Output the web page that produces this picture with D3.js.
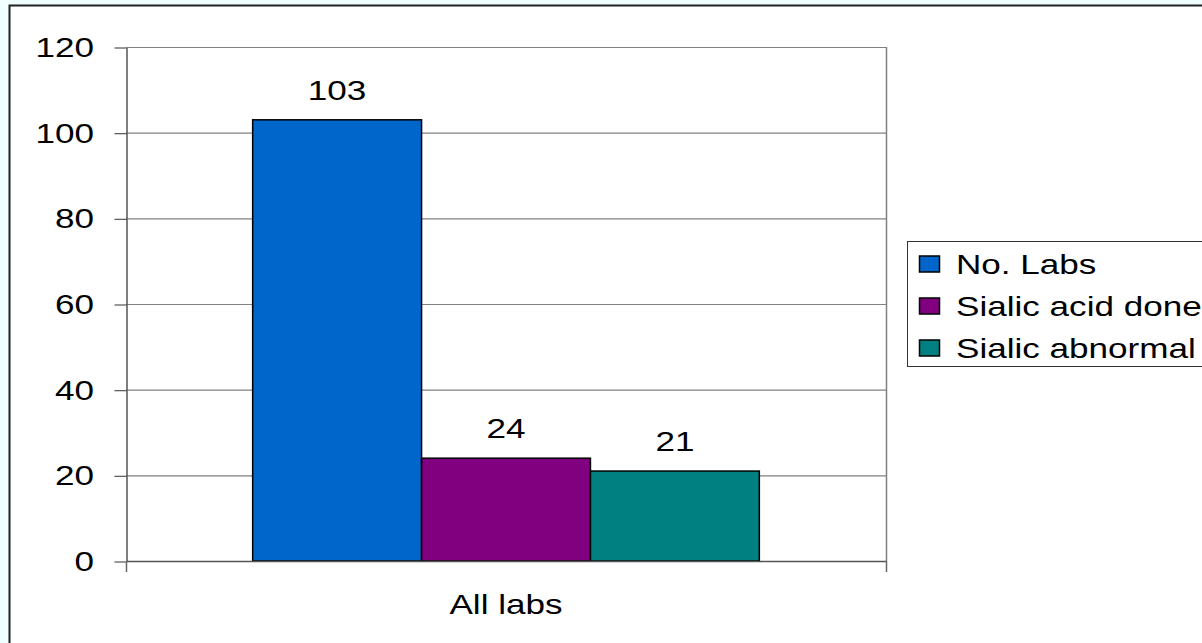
<!DOCTYPE html>
<html>
<head>
<meta charset="utf-8">
<script src="https://cdn.jsdelivr.net/npm/d3@7/dist/d3.min.js"></script>
<style>
  html, body { margin: 0; padding: 0; background: #f0ffff; }
  svg { display: block; }
  text { font-family: "Liberation Sans", Arial, sans-serif; fill: #000; }
</style>
</head>
<body>
<svg id="chart" width="1202" height="643"></svg>
<script>
const categories = ["All labs"];
const seriesNames = ["No. Labs", "Sialic acid done", "Sialic abnormal"];
const seriesValues = [103, 24, 21];
const seriesColors = ["#0066CC", "#800080", "#008080"];
const yTickValues = [0, 20, 40, 60, 80, 100, 120];

const W = 1202, H = 643;
const SX = 1.3;        // horizontal stretch of the text in the reference
const FS = 27;
const svg = d3.select("#chart");

// outer chart area
svg.append("rect").attr("x", 9.5).attr("y", 5.5).attr("width", W + 20).attr("height", H + 20)
  .attr("fill", "#fff").attr("stroke", "#222").attr("stroke-width", 2);

const plot = { left: 126, right: 886, top: 47, bottom: 561 };
const y = d3.scaleLinear().domain([0, 120]).range([plot.bottom, plot.top]);
const x = d3.scaleBand().domain(categories).range([plot.left, plot.right]).padding(0);
const x1 = d3.scaleBand().domain(seriesNames).range([0, x.bandwidth()]).paddingInner(0).paddingOuter(0.75);

function stretchedText(g, tx, ty, str, anchor) {
  return g.append("text")
    .attr("transform", `translate(${tx},${ty}) scale(${SX},1)`)
    .attr("text-anchor", anchor)
    .attr("font-size", FS)
    .text(str);
}

// gridlines
svg.append("g").selectAll("line").data(yTickValues.filter(d => d > 0)).join("line")
  .attr("x1", plot.left).attr("x2", plot.right)
  .attr("y1", d => y(d) + 0.5).attr("y2", d => y(d) + 0.5)
  .attr("stroke", "#808080").attr("stroke-width", 1.2);

// right border of plot area
svg.append("line").attr("x1", plot.right + 0.5).attr("x2", plot.right + 0.5)
  .attr("y1", plot.top).attr("y2", plot.bottom)
  .attr("stroke", "#808080").attr("stroke-width", 1.5);

// bars
const bars = svg.append("g");
categories.forEach(cat => {
  seriesNames.forEach((s, i) => {
    const v = seriesValues[i];
    const bx = x(cat) + x1(s);
    bars.append("rect")
      .attr("x", bx).attr("y", y(v))
      .attr("width", x1.bandwidth()).attr("height", y(0) - y(v))
      .attr("fill", seriesColors[i]).attr("stroke", "#000").attr("stroke-width", 1.5);
    stretchedText(svg, bx + x1.bandwidth() / 2, y(v) - 20, String(v), "middle");
  });
});

// y axis
const yAxis = d3.axisLeft(y).tickValues(yTickValues).tickSize(12).tickSizeOuter(0).tickFormat("");
const yg = svg.append("g").attr("transform", `translate(${plot.left + 0.5},0.5)`).call(yAxis);
yg.select(".domain").attr("stroke", "#555").attr("stroke-width", 1.5);
yg.selectAll(".tick line").attr("stroke", "#555").attr("stroke-width", 1.2);
yTickValues.forEach(t => stretchedText(svg, 94, y(t) + 10, String(t), "end"));

// x axis
svg.append("line").attr("x1", plot.left).attr("x2", plot.right)
  .attr("y1", plot.bottom + 0.5).attr("y2", plot.bottom + 0.5)
  .attr("stroke", "#555").attr("stroke-width", 1.5);
[plot.left, plot.right].forEach(px => {
  svg.append("line").attr("x1", px + 0.5).attr("x2", px + 0.5)
    .attr("y1", plot.bottom).attr("y2", plot.bottom + 11)
    .attr("stroke", "#666").attr("stroke-width", 1.5);
});
categories.forEach(cat => stretchedText(svg, x(cat) + x.bandwidth() / 2, 614, cat, "middle"));

// legend
const lg = svg.append("g");
lg.append("rect").attr("x", 907.5).attr("y", 241.5).attr("width", 400).attr("height", 125)
  .attr("fill", "#fff").attr("stroke", "#333").attr("stroke-width", 1);
const legendY = d3.scaleBand().domain(seriesNames).range([243, 369]);
seriesNames.forEach((s, i) => {
  const cy = legendY(s) + legendY.bandwidth() / 2;
  lg.append("rect").attr("x", 919.5).attr("y", cy - 8).attr("width", 20).attr("height", 16)
    .attr("fill", seriesColors[i]).attr("stroke", "#000").attr("stroke-width", 1.5);
  stretchedText(lg, 956, cy + 10, s, "start");
});
</script>
</body>
</html>
